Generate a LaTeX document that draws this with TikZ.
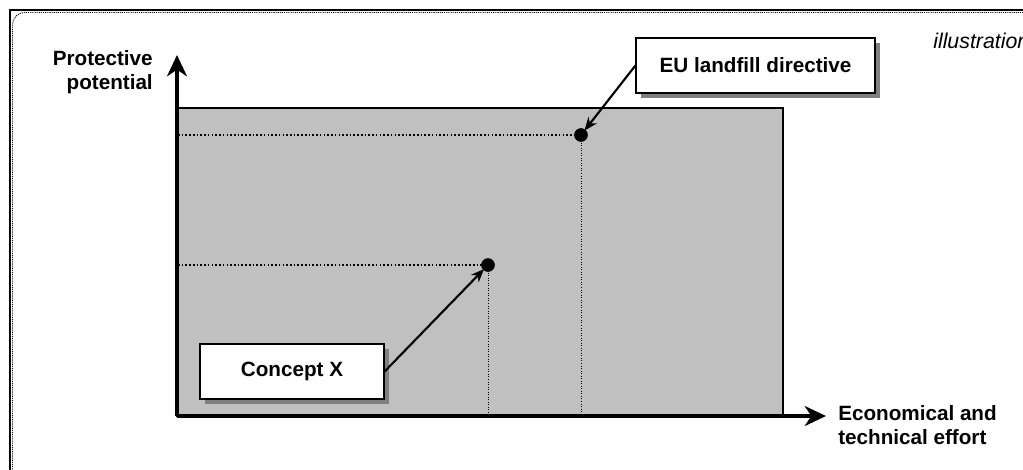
\documentclass[tikz,border=0pt]{standalone}
\usepackage{fontspec}
\setmainfont{Liberation Sans}
\usetikzlibrary{arrows.meta,shadows}
\definecolor{areagray}{HTML}{C0C0C0}
\definecolor{shadowgray}{HTML}{808080}
\tikzset{
  labelbox/.style={draw=black, line width=0.9pt, fill=white, font=\bfseries\fontsize{15.5}{18}\selectfont,
    minimum height=41.25pt, inner sep=0pt,
    drop shadow={shadow xshift=3.75pt, shadow yshift=-3.75pt, fill=shadowgray, opacity=1}},
  axislabel/.style={font=\bfseries\fontsize{15.5}{17.5}\selectfont, inner sep=0pt},
  axis/.style={line width=2.4pt, -{Stealth[length=16pt,width=15pt,inset=5pt]}},
  pointer/.style={line width=1.6pt, -{Stealth[length=10pt,width=8pt]}, shorten >=-1pt},
  dotpt/.style={circle, fill=black, inner sep=0pt, minimum size=10pt},
  hguide/.style={line width=1.1pt, dash pattern=on 1.2pt off 1.6pt},
  vguide/.style={line width=0.6pt, dash pattern=on 0.7pt off 1.2pt},
}
\begin{document}
\begin{tikzpicture}[x=0.75pt,y=-0.75pt]
\useasboundingbox (0,0) rectangle (1023,469);
\begin{scope}
\clip (0,0) rectangle (1023,469);
% frame
\draw[line width=1.6pt] (10,480) -- (10,10) -- (1040,10);
\draw[line width=0.7pt, dash pattern=on 0.8pt off 0.8pt, rounded corners=9pt] (12.5,480) -- (12.5,12.5) -- (1040,12.5);
% area
\draw[fill=areagray, line width=0.8pt] (177,108) rectangle (783,416);
% guides
\coordinate (o) at (177,416);
\node[dotpt] (eudot) at (581,135) {};
\node[dotpt] (cxdot) at (488,265) {};
\coordinate (euy) at (178,135);
\coordinate (eux) at (581,416);
\coordinate (cxy) at (178,265);
\coordinate (cxx) at (488,416);
\draw[hguide] (euy) -- (eudot.center);
\draw[vguide] (eudot.center) -- (eux);
\draw[hguide] (cxy) -- (cxdot.center);
\draw[vguide] (cxdot.center) -- (cxx);
\node[dotpt] at (581,135) {};
\node[dotpt] at (488,265) {};
% axes
\coordinate (ytip) at (177,55);
\coordinate (xtip) at (826,416);
\draw[axis] (o) -- (ytip);
\draw[axis] (o) -- (xtip);
% axis labels
\node[axislabel, anchor=east, align=right] (ylab) at (153,72) {Protective\\potential};
\node[axislabel, anchor=west, align=left] (xlab) at (838,425) {Economical and\\technical effort};
% boxes
\node[labelbox, minimum width=179.25pt] (eu) at (755.5,65.5) {EU landfill directive};
\node[labelbox, minimum width=138pt] (cx) at (292,371.5) {Concept X};
\draw[pointer] (eu.west) -- (eudot);
\draw[pointer] (cx.east) -- (cxdot);
% note
\node[font=\itshape\fontsize{16}{19}\selectfont, anchor=west, inner sep=0pt] (note) at (933,41) {illustration};
\end{scope}
\end{tikzpicture}
\end{document}
